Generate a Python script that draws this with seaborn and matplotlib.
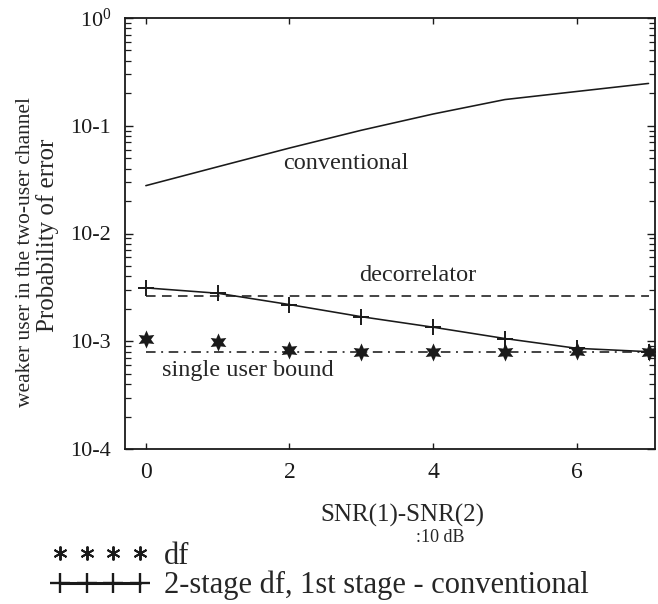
import numpy as np
import pandas as pd
import matplotlib
matplotlib.use("Agg")
import matplotlib.pyplot as plt
import seaborn as sns
from matplotlib.lines import Line2D
from matplotlib.legend_handler import HandlerLine2D
from matplotlib.ticker import FixedLocator, LogLocator, NullFormatter

# ---- data ----
snr_diff = [0, 1, 2, 3, 4, 5, 6, 7]
conventional = [0.0278, 0.0416, 0.0621, 0.0908, 0.1285, 0.175, 0.208, 0.247]
decorrelator = [2.64e-3, 2.64e-3, 2.64e-3, 2.64e-3, 2.64e-3, 2.64e-3, 2.64e-3, 2.64e-3]
single_user_bound = [0.80e-3, 0.80e-3, 0.80e-3, 0.80e-3, 0.80e-3, 0.80e-3, 0.80e-3, 0.80e-3]
df_points = [1.06e-3, 0.98e-3, 0.83e-3, 0.79e-3, 0.79e-3, 0.80e-3, 0.81e-3, 0.80e-3]
two_stage = [3.13e-3, 2.79e-3, 2.19e-3, 1.69e-3, 1.35e-3, 1.06e-3, 0.86e-3, 0.80e-3]

ytick_vals = [1e0, 1e-1, 1e-2, 1e-3, 1e-4]
ytick_labels = [r"$\mathregular{10^{0}}$", "10-1", "10-2", "10-3", "10-4"]
xtick_vals = [0, 2, 4, 6]
xtick_labels = ["0", "2", "4", "6"]

sns.set_theme(style="white")
plt.rcParams["font.family"] = ["Liberation Serif", "DejaVu Serif"]
plt.rcParams["mathtext.fontset"] = "custom"
plt.rcParams["mathtext.rm"] = "Liberation Serif"

W, H = 658, 604
fig = plt.figure(figsize=(W / 100, H / 100), dpi=100)
fig.patch.set_facecolor("white")
ax = fig.add_axes([125 / W, 1 - 449 / H, 530 / W, 431 / H])
ax.set_facecolor("white")

lw = 1.15
sns.lineplot(x=snr_diff, y=conventional, ax=ax, color="k", lw=lw)
sns.lineplot(x=snr_diff, y=decorrelator, ax=ax, color="k", lw=lw,
             linestyle=(0, (6, 4)))
sns.lineplot(x=snr_diff, y=single_user_bound, ax=ax, color="k", lw=lw,
             linestyle=(0, (6, 3.5, 1.2, 3.5)))
sns.lineplot(x=snr_diff, y=two_stage, ax=ax, color="k", lw=lw,
             marker="+", markersize=11, markeredgewidth=1.4,
             markeredgecolor="k", markerfacecolor="k")
sns.scatterplot(x=snr_diff, y=df_points, ax=ax, color="k", marker=(6, 1, 0),
                s=170, linewidth=0, zorder=5)

ax.set_yscale("log")
ax.set_ylim(1e-4, 1)
ax.set_xlim(-0.29, 7.09)
ax.yaxis.set_major_locator(FixedLocator(ytick_vals))
ax.set_yticklabels(ytick_labels)
ax.yaxis.set_minor_locator(LogLocator(base=10, subs=np.arange(2, 10)))
ax.yaxis.set_minor_formatter(NullFormatter())
ax.xaxis.set_major_locator(FixedLocator(xtick_vals))
ax.set_xticklabels(xtick_labels)
ax.set_xlabel("")
ax.set_ylabel("")

ax.tick_params(axis="both", which="both", direction="in", colors="k",
               left=True, right=True, top=True, bottom=True)
ax.tick_params(axis="y", which="major", length=6, width=1.0, labelsize=16, pad=10)
ax.tick_params(axis="y", which="minor", length=4, width=0.9)
ax.tick_params(axis="x", which="major", length=4, width=1.0, labelsize=17, pad=9)
for sp in ax.spines.values():
    sp.set_visible(True)
    sp.set_color("k")
    sp.set_linewidth(1.3)

ax.text(2.79, 0.045, "conventional", ha="center", va="center", fontsize=17.5)
ax.text(3.79, 4.1e-3, "decorrelator", ha="center", va="center", fontsize=17.5)
ax.text(0.22, 5.4e-4, "single user bound", ha="left", va="center", fontsize=17.5)

fig.text(26 / W, 1 - 252 / H, "weaker user in the two-user channel",
         rotation=90, ha="center", va="center", fontsize=15.5)
fig.text(48 / W, 1 - 235 / H, "Probability of error",
         rotation=90, ha="center", va="center", fontsize=18)

fig.text(402 / W, 1 - 515 / H, "SNR(1)-SNR(2)", ha="center", va="center", fontsize=18)
fig.text(440 / W, 1 - 538 / H, ":10 dB", ha="center", va="center", fontsize=13)

h_df = Line2D([], [], color="k", linestyle="none", marker=(6, 2, 0),
              markersize=10, markeredgewidth=1.4)
h_two = Line2D([], [], color="k", linestyle="-", lw=2.2, marker="+",
               markersize=14, markeredgewidth=1.7)
fig.legend([h_df, h_two], ["df", "2-stage df, 1st stage - conventional"],
           handler_map={h_df: HandlerLine2D(marker_pad=0.5, numpoints=4),
                        h_two: HandlerLine2D(marker_pad=0.5, numpoints=4)},
           loc="upper left", bbox_to_anchor=(45 / W, 1 - 542 / H),
           bbox_transform=fig.transFigure, frameon=False, fontsize=22,
           handlelength=3.6, handletextpad=0.3,
           labelspacing=0.0, borderpad=0, borderaxespad=0)

fig.savefig("out.png", dpi=100, facecolor="white")
